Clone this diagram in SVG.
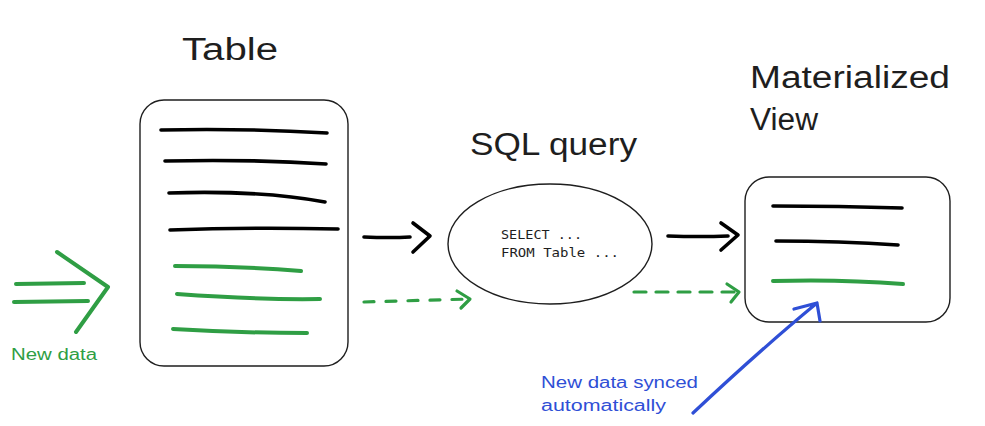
<svg xmlns="http://www.w3.org/2000/svg" width="985" height="426" viewBox="0 0 985 426">
<style>
.box{fill:#fff;stroke:#1e1e1e;stroke-width:1.4}
.bl{fill:none;stroke:#000;stroke-width:3.6;stroke-linecap:round;stroke-linejoin:round}
.gr{fill:none;stroke:#2f9e44;stroke-width:4;stroke-linecap:round;stroke-linejoin:round}
.gd{fill:none;stroke:#2f9e44;stroke-width:3.2;stroke-linecap:round;stroke-linejoin:round}
.bu{fill:none;stroke:#2f4fd6;stroke-width:3.2;stroke-linecap:round;stroke-linejoin:round}
.t{font-family:"Liberation Sans","DejaVu Sans",sans-serif;fill:#1e1e1e}
.m{font-family:"DejaVu Sans Mono","Liberation Mono",monospace;font-size:13px;fill:#1e1e1e}
.s{font-family:"Liberation Sans","DejaVu Sans",sans-serif;font-size:16px}
</style>
<rect width="985" height="426" fill="#fff"/>
<g id="table">
<text class="t" x="182" y="60" font-size="31" textLength="96" lengthAdjust="spacingAndGlyphs">Table</text>
<rect class="box" x="140" y="100" width="208" height="266" rx="24"/>
<path class="bl" d="M161,130 Q240,128 327,133"/>
<path class="bl" d="M165,161 Q250,159 326,164"/>
<path class="bl" d="M169,193 Q260,190 325,202"/>
<path class="bl" d="M170,230 Q250,227 338,229"/>
<path class="gr" d="M175,266 Q240,266 301,271"/>
<path class="gr" d="M177,294 Q260,300 320,299"/>
<path class="gr" d="M173,329 Q240,333 307,333"/>
</g>
<g id="newdata">
<path class="gr" d="M16,284 L84,283 M14,302 L88,301 M57,252 L108,287 L76,332"/>
<text class="s" x="11" y="360" fill="#2f9e44" textLength="86" lengthAdjust="spacingAndGlyphs">New data</text>
</g>
<g id="sql">
<text class="t" x="470" y="155" font-size="31" textLength="167" lengthAdjust="spacingAndGlyphs">SQL query</text>
<ellipse class="box" cx="550" cy="244" rx="102" ry="60"/>
<text class="m" x="501" y="239" textLength="81" lengthAdjust="spacingAndGlyphs">SELECT ...</text>
<text class="m" x="501" y="257" textLength="118" lengthAdjust="spacingAndGlyphs">FROM Table ...</text>
</g>
<g id="mview">
<text class="t" x="750" y="88" font-size="31" textLength="200" lengthAdjust="spacingAndGlyphs">Materialized</text>
<text class="t" x="750" y="130" font-size="31" textLength="68" lengthAdjust="spacingAndGlyphs">View</text>
<rect class="box" x="745" y="177" width="205" height="145" rx="24"/>
<path class="bl" d="M773,206 Q840,206 902,208"/>
<path class="bl" d="M776,241 Q840,241 898,245"/>
<path class="gr" d="M773,281 Q840,279 903,284"/>
</g>
<g id="note">
<text class="s" x="541" y="388" fill="#2f4fd6" textLength="157" lengthAdjust="spacingAndGlyphs">New data synced</text>
<text class="s" x="541" y="411" fill="#2f4fd6" textLength="125" lengthAdjust="spacingAndGlyphs">automatically</text>
</g>
<g id="connectors">
<path class="bl" stroke-width="4.5" d="M364,237 Q390,238 410,237 M413,223 L430,236 L413,252"/>
<path class="bl" stroke-width="4.5" d="M668,236 Q700,237 728,236 M721,223 L738,235 L721,250"/>
<path class="gd" stroke-dasharray="10 12" d="M364,302 L470,299"/>
<path class="gd" d="M457,291 L470,299 L461,308"/>
<path class="gd" stroke-dasharray="12 10" d="M634,292 L738,292"/>
<path class="gd" d="M727,284 L739,292 L731,302"/>
<path class="bu" d="M693,413 Q760,350 817,303 M794,309 L817,303 L820,321"/>
</g>
</svg>
